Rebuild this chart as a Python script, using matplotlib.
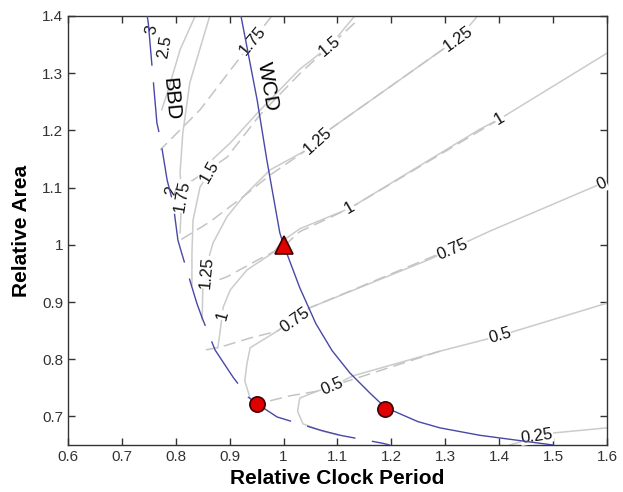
import matplotlib
matplotlib.use("Agg")
import matplotlib.pyplot as plt

plt.rcParams['font.family'] = ['Liberation Sans', 'DejaVu Sans']

# ---- design curves ----
wcd_x = [0.921, 0.923, 0.951, 0.969, 0.993, 1.0, 1.030, 1.060, 1.090, 1.123, 1.160, 1.188, 1.249, 1.29,
         1.364, 1.444, 1.50]
wcd_y = [1.40, 1.39, 1.253, 1.148, 1.021, 1.0, 0.925, 0.862, 0.815, 0.776, 0.741, 0.716, 0.691, 0.680,
         0.667, 0.657, 0.650]

bbd_x = [0.747, 0.749, 0.765, 0.771, 0.784, 0.795, 0.804, 0.813, 0.839, 0.849, 0.873, 0.906, 0.934, 0.951,
         0.988, 1.068, 1.105, 1.184, 1.197]
bbd_y = [1.40, 1.388, 1.213, 1.188, 1.113, 1.073, 1.008, 0.979, 0.898, 0.872, 0.816, 0.769, 0.734, 0.722,
         0.699, 0.676, 0.667, 0.653, 0.650]

# ---- solid gray contours ----
solid_lines = {
    '2.5': ([0.836, 0.808, 0.786, 0.774], [1.40, 1.341, 1.271, 1.236]),
    '1.75': ([0.863, 0.826, 0.813, 0.808, 0.811, 0.808], [1.40, 1.283, 1.195, 1.126, 1.084, 1.021]),
    '1.5': ([1.132, 1.086, 1.030, 0.951, 0.901, 0.869, 0.863, 0.845, 0.832, 0.830, 0.830],
            [1.40, 1.348, 1.307, 1.230, 1.178, 1.150, 1.127, 1.101, 1.043, 0.986, 0.930]),
    '1.25': ([1.36, 1.324, 1.296, 1.086, 1.064, 1.043, 0.975, 0.925, 0.895, 0.869, 0.860, 0.858, 0.850, 0.849],
             [1.40, 1.360, 1.342, 1.202, 1.181, 1.166, 1.131, 1.084, 1.049, 1.003, 0.973, 0.952, 0.921, 0.869]),
    '1': ([1.600, 1.401, 1.364, 1.123, 1.030, 1.0, 0.980, 0.932, 0.901, 0.888, 0.886, 0.882, 0.878],
          [1.335, 1.220, 1.202, 1.064, 1.028, 1.008, 0.986, 0.956, 0.921, 0.891, 0.877, 0.846, 0.820]),
    '0.75': ([1.600, 1.587, 1.383, 1.314, 1.272, 1.049, 1.021, 0.988, 0.938, 0.932, 0.928, 0.938],
             [1.110, 1.106, 1.024, 0.994, 0.975, 0.890, 0.869, 0.849, 0.820, 0.792, 0.762, 0.732]),
    '0.5': ([1.600, 1.401, 1.290, 1.129, 1.090, 1.062, 1.030, 1.026, 1.036, 1.073, 1.10],
            [0.898, 0.841, 0.814, 0.771, 0.753, 0.744, 0.732, 0.709, 0.687, 0.674, 0.668]),
    '0.25': ([1.600, 1.500, 1.470, 1.444, 1.420], [0.680, 0.671, 0.666, 0.657, 0.650]),
}

# ---- dashed gray contours ----
dashed_lines = [
    ([0.978, 0.906, 0.845, 0.784, 0.771], [1.40, 1.311, 1.236, 1.178, 1.166]),
    ([1.132, 1.086, 1.030, 0.956, 0.895, 0.832, 0.799], [1.388, 1.348, 1.299, 1.227, 1.153, 1.113, 1.096]),
    ([1.324, 1.296, 1.086, 1.043, 0.975, 0.925, 0.863, 0.808], [1.360, 1.342, 1.202, 1.166, 1.122, 1.084, 1.040, 1.008]),
    ([1.401, 1.123, 1.030, 1.0, 0.951, 0.895, 0.863, 0.845], [1.220, 1.064, 1.023, 0.997, 0.973, 0.944, 0.933, 0.921]),
    ([1.314, 1.049, 0.988, 0.938, 0.882, 0.854], [0.994, 0.890, 0.849, 0.837, 0.821, 0.816]),
    ([1.290, 1.090, 1.062, 1.012, 0.965], [0.814, 0.753, 0.744, 0.736, 0.725]),
]

# ---- contour labels ----
clabel_text = ['3', '2.5', '1.75', '1.5', '1.25', '1.25', '1', '1.5', '2', '1.75', '1',
               '0', '1.25', '1', '0.75', '0.75', '0.5', '0.5', '0.25']
clabel_x = [0.756, 0.780, 0.943, 1.086, 1.324, 1.064, 1.401, 0.863, 0.793, 0.812, 1.123,
            1.591, 0.858, 0.886, 1.021, 1.314, 1.401, 1.090, 1.470]
clabel_y = [1.376, 1.346, 1.356, 1.348, 1.360, 1.181, 1.220, 1.127, 1.094, 1.085, 1.064,
            1.106, 0.952, 0.877, 0.869, 0.991, 0.841, 0.753, 0.666]
clabel_rot = [80, 80, 50, 40, 36, 42, 31, 60, 80, 80, 30,
              25, 85, 75, 35, 23, 16, 23, 8]

# ---- design points ----
tri_x, tri_y = [1.0], [1.0]
circ_x, circ_y = [0.951, 1.188], [0.722, 0.713]

fig = plt.figure(figsize=(6.23, 4.92), dpi=100)
ax = fig.add_axes([0.1091, 0.0955, 0.8652, 0.872])

for xs, ys in solid_lines.values():
    ax.plot(xs, ys, color='#cbcbcb', lw=1.1, zorder=2)
for xs, ys in dashed_lines:
    ax.plot(xs, ys, color='#c4c4c4', lw=1.1, ls=(0, (8, 4)), zorder=2)

for t, x, y, r in zip(clabel_text, clabel_x, clabel_y, clabel_rot):
    ax.text(x, y, t, fontsize=12, rotation=r, rotation_mode='anchor', ha='center', va='center',
            color='#111111', zorder=3,
            bbox=dict(facecolor='white', edgecolor='none', pad=0.3))

ax.plot(wcd_x, wcd_y, color='#4848a8', lw=1.0, zorder=4)
ax.plot(bbd_x, bbd_y, color='#4848a8', lw=1.0, ls=(0, (36, 12)), zorder=4)

ax.text(0.971, 1.276, 'WCD', fontsize=15, rotation=-80, rotation_mode='anchor',
        ha='center', va='center', zorder=5)
ax.text(0.791, 1.255, 'BBD', fontsize=15, rotation=-85, rotation_mode='anchor',
        ha='center', va='center', zorder=5)

ax.plot(tri_x, tri_y, marker='^', ms=13, color='#e00000', mec='#400000', mew=1.2, ls='none', zorder=6)
ax.plot(circ_x, circ_y, marker='o', ms=11, color='#e00000', mec='#400000', mew=1.2, ls='none', zorder=6)

ax.set_xlim(0.6, 1.6)
ax.set_ylim(0.65, 1.4)
ax.set_xticks([0.6, 0.7, 0.8, 0.9, 1, 1.1, 1.2, 1.3, 1.4, 1.5, 1.6])
ax.set_xticklabels(['0.6', '0.7', '0.8', '0.9', '1', '1.1', '1.2', '1.3', '1.4', '1.5', '1.6'])
ax.set_yticks([0.7, 0.8, 0.9, 1, 1.1, 1.2, 1.3, 1.4])
ax.set_yticklabels(['0.7', '0.8', '0.9', '1', '1.1', '1.2', '1.3', '1.4'])
ax.tick_params(direction='in', top=True, right=True, length=5, width=1, labelsize=11,
               labelcolor='#333333', color='#333333')
for s in ax.spines.values():
    s.set_color('#333333')
    s.set_linewidth(1.0)

ax.set_xlabel('Relative Clock Period', fontsize=15, fontweight='bold', labelpad=4)
ax.set_ylabel('Relative Area', fontsize=15, fontweight='bold', labelpad=8)

fig.savefig('out.png', dpi=100)
